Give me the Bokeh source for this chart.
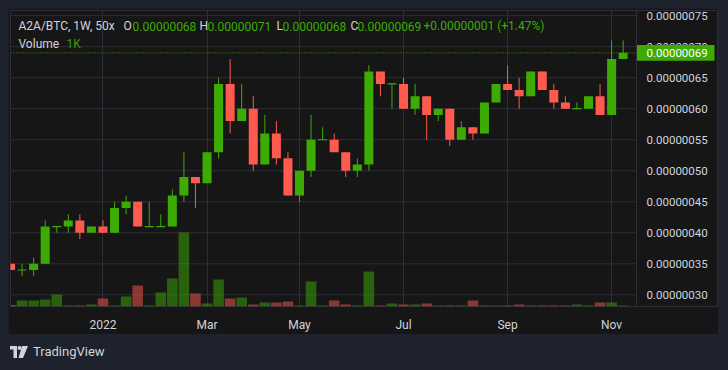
from bokeh.plotting import figure
from bokeh.models import Range1d, FixedTicker, Span, Label, Div, ColumnDataSource
from bokeh.layouts import column
from bokeh.embed import file_html
from bokeh.resources import INLINE
from bokeh.core.properties import value

symbol_title = "A2A/BTC, 1W, 50x"
# weekly candles, 2021-11-08 .. 2022-11-14, prices in satoshi (1e-8 BTC)
opens  = [35, 34, 34, 35, 41, 41, 42, 40, 41, 40, 44, 45, 41, 41, 41, 46, 49, 48, 53, 64,
          58, 60, 51, 56, 52, 46, 50, 55, 55, 53, 50, 51, 66, 64, 64, 60, 62, 59, 60, 55,
          57, 56, 61, 64, 63, 62, 66, 63, 61, 60, 60, 62, 59, 68]
highs  = [35, 35, 36, 42, 41, 43, 43, 41, 42, 45, 46, 45, 45, 43, 47, 53, 49, 53, 65, 68,
          64, 62, 59, 58, 53, 50, 59, 57, 56, 53, 52, 67, 66, 64, 65, 64, 62, 60, 60, 58,
          57, 61, 64, 67, 65, 66, 66, 64, 62, 61, 62, 64, 71, 71]
lows   = [34, 33, 33, 35, 40, 40, 39, 40, 40, 40, 43, 41, 41, 41, 41, 45, 44, 48, 52, 56,
          58, 50, 51, 51, 46, 45, 49, 55, 53, 49, 49, 50, 62, 60, 60, 59, 55, 58, 54, 55,
          55, 56, 61, 63, 60, 62, 63, 60, 60, 60, 60, 59, 59, 68]
closes = [34, 34, 35, 41, 41, 42, 40, 41, 40, 44, 45, 41, 41, 41, 46, 49, 48, 53, 64, 58,
          60, 51, 56, 52, 46, 50, 55, 55, 53, 50, 51, 66, 64, 64, 60, 62, 59, 60, 55, 57,
          56, 61, 64, 63, 62, 66, 63, 61, 60, 60, 62, 59, 68, 69]
volumes_k = [1.5, 6, 6, 7, 12, 1, 1, 2, 8, 1, 10, 21, 1, 14, 28, 74, 13, 3, 27, 8,
             9, 2, 4, 4, 5, 1, 25, 1, 6, 2, 1, 35, 1, 3, 2, 2, 3, 1, 1, 1,
             6, 1, 1, 1, 2, 1, 1, 1, 1, 2, 1, 4, 4, 1]
month_ticks = [8, 17, 25, 34, 43, 52]
month_labels = ["2022", "Mar", "May", "Jul", "Sep", "Nov"]
price_ticks = [30, 35, 40, 45, 50, 55, 60, 65, 70, 75]

UP = "#3dab04"
DOWN = "#ff5a4e"
BG = "#161616"
PAGE = "#1e222d"
GRID = "#2e2e38"
TXT = "#d1d4dc"
FONT = "Roboto"

BAR_PX = 11.56          # pixels per weekly bar
FRAME_L, FRAME_R, FRAME_T, FRAME_B = 10, 717, 10, 307   # page pixels of the plot frame
SEP_PX = 636            # chart / price-scale separator


def fmt(v):
    return f"{v * 1e-8:.8f}"


def px2x(px):
    return (px - FRAME_L) / BAR_PX


X0, X1 = 0.0, px2x(FRAME_R)
XSEP = px2x(SEP_PX)
Y0, Y1 = 28.12, 75.83
PX_PER_Y = (FRAME_B - FRAME_T) / (Y1 - Y0)


def py2y(py):
    return Y1 - (py - FRAME_T) / PX_PER_Y


n = len(opens)
idx = list(range(n))
colors = [UP if c >= o else DOWN for o, c in zip(opens, closes)]
src = ColumnDataSource(dict(
    x=idx, o=opens, h=highs, l=lows, c=closes,
    top=[max(o, c) for o, c in zip(opens, closes)],
    bottom=[min(o, c) for o, c in zip(opens, closes)],
    color=colors, vol=volumes_k))
dj = [i for i in idx if opens[i] == closes[i]]
doji = ColumnDataSource(dict(
    x0=[i - 0.39 for i in dj], x1=[i + 0.39 for i in dj],
    y=[opens[i] for i in dj], color=[colors[i] for i in dj]))

p = figure(width=710, height=326, x_range=Range1d(X0, X1), y_range=Range1d(Y0, Y1),
           y_axis_location=None, output_backend="svg", toolbar_location=None,
           min_border_left=2, min_border_top=2, min_border_right=1, min_border_bottom=27,
           background_fill_color=BG, border_fill_color=BG, outline_line_color=GRID)
p.extra_y_ranges = {"vol": Range1d(0, max(volumes_k) * 4.0)}

# horizontal grid (chart part only)
p.segment(x0=[X0] * len(price_ticks), y0=price_ticks, x1=[XSEP] * len(price_ticks),
          y1=price_ticks, line_color=GRID, line_width=1)
p.ygrid.visible = False

p.vbar(x="x", width=0.92, top="vol", bottom=0, y_range_name="vol", fill_color="color",
       fill_alpha=0.5, line_color=None, source=src)
p.segment(x0="x", y0="l", x1="x", y1="h", line_color="color", line_width=1, source=src)
p.vbar(x="x", width=0.78, top="top", bottom="bottom", fill_color="color", line_color=None, source=src)
p.segment(x0="x0", y0="y", x1="x1", y1="y", line_color="color", line_width=1.2, source=doji)

p.xaxis.ticker = FixedTicker(ticks=month_ticks)
p.xaxis.major_label_overrides = {t: l for t, l in zip(month_ticks, month_labels)}
p.xaxis.axis_line_color = None
p.xaxis.major_tick_line_color = None
p.xaxis.minor_tick_line_color = None
p.xaxis.major_label_text_color = TXT
p.xaxis.major_label_text_font = FONT
p.xaxis.major_label_text_font_size = "12px"
p.xaxis.major_label_standoff = 5
p.xgrid.grid_line_color = GRID

# price scale
p.add_layout(Span(location=XSEP, dimension="height", line_color=GRID, line_width=1))
XLAB = px2x(SEP_PX + 10)
p.text(x=[XLAB] * len(price_ticks), y=price_ticks, text=[fmt(t) for t in price_ticks],
       text_font=value(FONT), text_font_size="11.5px", text_color=TXT,
       text_baseline="middle", text_align="left")

last_c = closes[-1]
p.segment(x0=[X0], y0=[last_c], x1=[XSEP], y1=[last_c], line_color=UP, line_dash="1 2", line_width=1)
half = 8 / PX_PER_Y
p.quad(left=[XSEP], right=[px2x(714)], bottom=[last_c - half], top=[last_c + half],
       fill_color=UP, line_color=None)
p.text(x=[XLAB], y=[last_c], text=[fmt(last_c)], text_font=value(FONT), text_font_size="11.5px",
       text_color="#ffffff", text_baseline="middle", text_align="left")

chg = closes[-1] - closes[-2]
pct = chg / closes[-2] * 100
sg = '+' if chg >= 0 else '-'
chg_str = f"{sg}{fmt(abs(chg))} ({sg}{abs(pct):.2f}%)"
row1 = [(symbol_title, 18, TXT), ("O", 123, TXT), (fmt(opens[-1]), 132, UP),
        ("H", 199, TXT), (fmt(highs[-1]), 207, UP), ("L", 276, TXT), (fmt(lows[-1]), 282, UP),
        ("C", 350, TXT), (fmt(closes[-1]), 357, UP), (chg_str, 423, UP)]
row2 = [("Volume", 18, TXT), (f"{volumes_k[-1]:g}K", 66, "#399d07")]
for items, py in ((row1, 26), (row2, 43.7)):
    for t, px, col in items:
        p.add_layout(Label(x=px2x(px), y=py2y(py), text=t, text_align="left",
                           text_baseline="middle", text_color=col, text_font=FONT,
                           text_font_size="12px"))

logo_svg = ('<svg width="18" height="12" viewBox="0 0 36 24">'
            '<path d="M0 0H14V24H7V7H0Z" fill="#d1d4dc"/>'
            '<circle cx="19" cy="4" r="4" fill="#d1d4dc"/>'
            '<path d="M24 0H36L26 24H17Z" fill="#d1d4dc"/></svg>')
div = Div(text=('<div style="box-sizing:border-box;padding-top:8px;height:28px;padding-left:2px;'
                'display:flex;align-items:center;font-family:Roboto;font-size:13px;color:#d1d4dc">'
                + logo_svg + '<span style="margin-left:5px">TradingView</span></div>'),
          width=710, height=28, margin=(0, 0, 0, 0))

layout = column(p, div, spacing=0)
html = file_html(layout, INLINE)
html = html.replace(
    "</head>",
    "<style>html,body{background-color:%s !important;}body{padding:8px !important;"
    "box-sizing:border-box;}</style></head>" % PAGE, 1)
open("out.html", "w").write(html)
